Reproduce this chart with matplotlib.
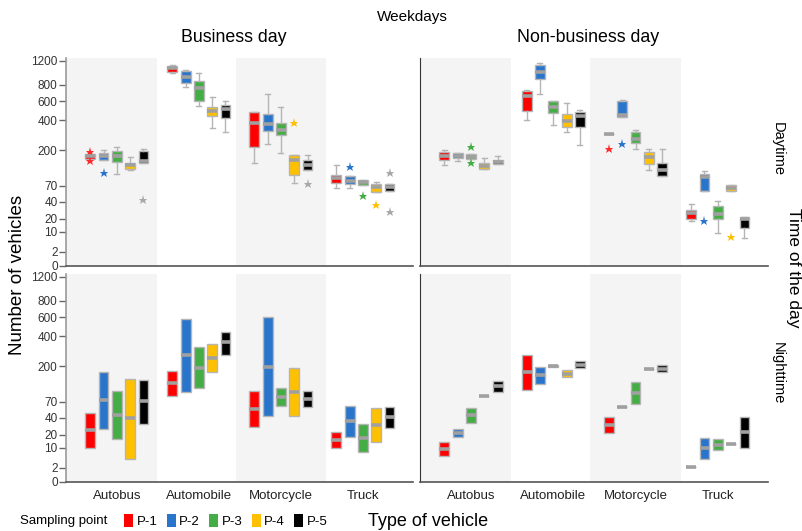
import numpy as np
import matplotlib
matplotlib.use("Agg")
import matplotlib.pyplot as plt
from matplotlib.patches import Patch

plt.rcParams['font.family'] = ['Liberation Sans', 'DejaVu Sans']

vehicles = ["Autobus", "Automobile", "Motorcycle", "Truck"]
points = ["P-1", "P-2", "P-3", "P-4", "P-5"]
point_colors = ["#ff0000", "#2a75cc", "#45ad45", "#ffc000", "#000000"]
star_colors = ["#ff2a2a", "#2a75cc", "#45ad45", "#ffc000", "#a8a8a8"]

y_ticks = [0, 2, 10, 20, 40, 70, 200, 400, 600, 800, 1200]

# business day, daytime  [vehicle][sampling point]
bd_day_lo = [[161, 156, 105, 117, 142], [984, 768, 538, 335, 309],
             [142, 235, 186, 77, 117], [65, 65, 73, 58, 60]]
bd_day_q1 = [[161, 156, 146, 120, 142], [994, 829, 595, 434, 419],
             [219, 318, 289, 99, 117], [77, 75, 73, 58, 60]]
bd_day_med = [[171, 173, 173, 136, 151], [1069, 920, 760, 488, 509],
              [376, 370, 325, 156, 136], [91, 83, 79, 68, 68]]
bd_day_q3 = [[181, 186, 197, 142, 197], [1108, 1010, 853, 531, 553],
             [478, 457, 380, 178, 156], [101, 96, 86, 75, 75]]
bd_day_hi = [[181, 202, 214, 167, 205], [1125, 1027, 984, 646, 595],
             [478, 686, 531, 178, 178], [133, 96, 86, 81, 75]]
bd_day_out = [(0, 0, 193), (0, 0, 150), (0, 1, 106), (0, 4, 43),
              (2, 3, 376), (2, 4, 74),
              (3, 1, 129), (3, 2, 49), (3, 3, 36), (3, 4, 106), (3, 4, 27)]

# non-business day, daytime
nbd_day_lo = [[133, 151, 160, 121, 137], [403, 683, 363, 311, 229],
              [295, 428, 207, 115, 96], [18, 59, 9.6, 60, 6.8]]
nbd_day_q1 = [[156, 163, 160, 121, 137], [491, 894, 468, 345, 342],
              [295, 428, 242, 138, 98], [19.4, 59, 19.6, 60, 12.7]]
nbd_day_med = [[170, 173, 168, 130, 145], [654, 1000, 531, 394, 434],
               [295, 450, 263, 167, 117], [25.4, 94, 24.3, 66, 20]]
nbd_day_q3 = [[193, 184, 179, 141, 156], [715, 1114, 595, 457, 474],
              [295, 595, 306, 192, 142], [29.2, 103, 34.7, 73, 21.2]]
nbd_day_hi = [[201, 184, 179, 163, 170], [737, 1158, 595, 576, 494],
              [295, 615, 322, 205, 205], [36.7, 114, 40.8, 73, 21.2]]
nbd_day_out = [(0, 2, 214), (0, 2, 141), (2, 0, 207), (2, 1, 236),
               (3, 1, 17.9), (3, 3, 7.3)]

# business day, nighttime
bd_night_q1 = [[10.2, 25.7, 16.2, 4.6, 31.7], [85.8, 98.5, 110.5, 173, 264.6],
               [27.7, 43.2, 62, 43.2, 58.8], [10.2, 17.9, 7.7, 14.1, 26.5]]
bd_night_med = [[24.3, 74, 44.8, 39.6, 72], [127, 263, 193, 244.5, 352.5],
                [55.5, 197.5, 83.9, 96.7, 77.7], [15.6, 35.3, 17.3, 30.8, 41.6]]
bd_night_q3 = [[48.7, 173, 99.8, 144.6, 140.6], [177.6, 576, 313, 334.5, 440.5],
               [100.7, 600, 111.4, 190.2, 100.7], [22.5, 61.4, 31.3, 58, 60]]

# non-business day, nighttime
nbd_night_q1 = [[5.8, 18.1, 33.4, 86.7, 98.5], [104, 124.4, 196, 152.6, 191.6],
                [21.2, 59.4, 65.6, 188.3, 173], [2.2, 4.6, 8.8, 12.2, 10]]
nbd_night_med = [[9.4, 21.5, 44.3, 86.7, 116.3], [173, 158.6, 201, 164, 207],
                 [30, 59.4, 94.6, 188.3, 188.3], [2.2, 9.7, 12, 12.2, 22.5]]
nbd_night_q3 = [[13.9, 25.4, 56.8, 86.7, 134.5], [264.6, 197.5, 206, 179, 225.7],
                [41.1, 59.4, 130.6, 188.3, 205.3], [2.2, 17, 15.9, 12.2, 42]]

# axis scale (compressed, roughly cube root)
scale_v = np.cbrt(np.array(y_ticks + [3000.0]))
scale_p = np.array([0, 14, 34, 47.4, 64, 80, 115.7, 145.7, 164.7, 180.7, 205, 273.6])


def fwd(v):
    return np.interp(np.cbrt(v), scale_v, scale_p)


def inv(p):
    return np.interp(p, scale_p, scale_v) ** 3


offs = np.array([-2, -1, 0, 1, 2]) * 0.162
W, H = 803, 531
fig = plt.figure(figsize=(W / 100, H / 100), dpi=100)


def make_ax(x0, x1, ytop, ybot, left_col):
    ax = fig.add_axes([x0 / W, 1 - ybot / H, (x1 - x0) / W, (ybot - ytop) / H])
    ax.set_yscale('function', functions=(fwd, inv))
    ax.set_ylim(0, 1250)
    ax.set_xlim(-0.62, 3.61)
    ax.axvspan(-0.62, 0.49, color='#f4f4f4', lw=0, zorder=0)
    ax.axvspan(1.45, 2.55, color='#f4f4f4', lw=0, zorder=0)
    ax.spines['top'].set_visible(False)
    ax.spines['right'].set_visible(False)
    ax.spines['bottom'].set_color('#555555')
    ax.spines['bottom'].set_linewidth(1.2)
    ax.set_yticks(y_ticks)
    ax.set_yticks([], minor=True)
    if left_col:
        ax.spines['left'].set_color('#9a9a9a')
        ax.spines['left'].set_linewidth(1.2)
        ax.set_yticklabels([str(t) for t in y_ticks], fontsize=8.5, color='#333333')
        ax.tick_params(axis='y', length=5, width=1, color='#666666', pad=1)
    else:
        ax.spines['left'].set_color('#333333')
        ax.tick_params(axis='y', left=False, labelleft=False)
    ax.set_xticks(range(4))
    ax.tick_params(axis='x', length=0, pad=6)
    return ax


def draw(ax, q1, med, q3, lo=None, hi=None, out=()):
    stats, pos, cols = [], [], []
    for c in range(4):
        for p in range(5):
            fl = [o[2] for o in out if o[0] == c and o[1] == p]
            stats.append(dict(q1=q1[c][p], med=med[c][p], q3=q3[c][p],
                              whislo=(lo or q1)[c][p], whishi=(hi or q3)[c][p],
                              fliers=fl))
            pos.append(c + offs[p])
            cols.append(p)
    res = ax.bxp(stats, positions=pos, widths=0.12, patch_artist=True,
                 showcaps=lo is not None, manage_ticks=False,
                 boxprops=dict(edgecolor='#b5b5b5', linewidth=1),
                 medianprops=dict(color='#a0a0a0', linewidth=2.6, solid_capstyle='butt'),
                 whiskerprops=dict(color='#b5b5b5', linewidth=1),
                 capprops=dict(color='#b5b5b5', linewidth=1),
                 flierprops=dict(marker='*', markersize=6.5, markeredgewidth=0))
    for b, f, p in zip(res['boxes'], res['fliers'], cols):
        b.set_facecolor(point_colors[p])
        f.set_markerfacecolor(star_colors[p])
        f.set_markeredgecolor(star_colors[p])
    if lo is None:
        for w in res['whiskers']:
            w.set_visible(False)


ax1 = make_ax(66, 413, 58, 266, True)
ax2 = make_ax(420, 768, 58, 266, False)
ax3 = make_ax(66, 413, 274, 482, True)
ax4 = make_ax(420, 768, 274, 482, False)

draw(ax1, bd_day_q1, bd_day_med, bd_day_q3, bd_day_lo, bd_day_hi, bd_day_out)
draw(ax2, nbd_day_q1, nbd_day_med, nbd_day_q3, nbd_day_lo, nbd_day_hi, nbd_day_out)
draw(ax3, bd_night_q1, bd_night_med, bd_night_q3)
draw(ax4, nbd_night_q1, nbd_night_med, nbd_night_q3)

for ax in (ax1, ax2):
    ax.set_xticklabels([])
for ax in (ax3, ax4):
    ax.set_xticklabels(vehicles, fontsize=9.5, color='#222222')

fig.text(412 / W, 1 - 17 / H, "Weekdays", ha='center', va='center', fontsize=11)
fig.text(234 / W, 1 - 38 / H, "Business day", ha='center', va='center', fontsize=12.8)
fig.text(588 / W, 1 - 38 / H, "Non-business day", ha='center', va='center', fontsize=12.8)
fig.text(18 / W, 1 - 275 / H, "Number of vehicles", ha='center', va='center',
         rotation=90, fontsize=13.5)
fig.text(778 / W, 1 - 149 / H, "Daytime", ha='center', va='center',
         rotation=-90, fontsize=10.5)
fig.text(778 / W, 1 - 373 / H, "Nighttime", ha='center', va='center',
         rotation=-90, fontsize=10.5)
fig.text(794 / W, 1 - 268 / H, "Time of the day", ha='center', va='center',
         rotation=-90, fontsize=12.5)

fig.text(20 / W, 1 - 521 / H, "Sampling point", ha='left', va='center', fontsize=9.5)
handles = [Patch(facecolor=c, edgecolor='none') for c in point_colors]
fig.legend(handles, points, ncol=5, loc='center left',
           bbox_to_anchor=(124 / W, 1 - 521 / H), frameon=False, fontsize=9.5,
           handlelength=0.7, handleheight=1.2, handletextpad=0.25,
           columnspacing=0.7, borderpad=0, borderaxespad=0)
fig.text(368 / W, 1 - 521 / H, "Type of vehicle", ha='left', va='center', fontsize=13)

fig.savefig("out.png", dpi=100)
